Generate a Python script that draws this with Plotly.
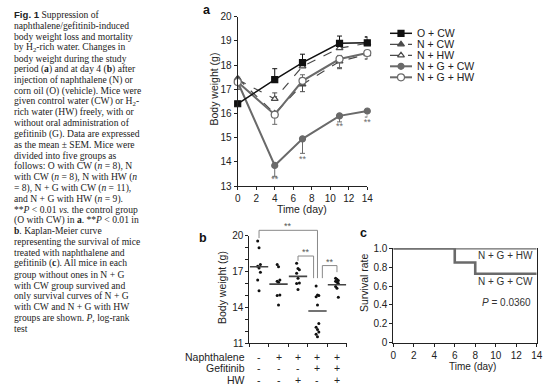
import plotly.graph_objects as go

W, H = 554, 391
def px(x): return x / W
def py(y): return 1 - y / H

# ---------------- data ----------------
days = [0, 4, 7, 11, 14]
series_names = ["O + CW", "N + CW", "N + HW", "N + G + CW", "N + G + HW"]
oc_mean = [16.4, 17.4, 18.1, 18.9, 18.92]
oc_up = [0.1, 0.45, 0.35, 0.3, 0.25]
oc_dn = [0, 0, 0, 0, 0]
ncw_mean = [17.45, 16.0, 17.2, 18.15, 18.45]
ncw_up = [0, 0, 0, 0, 0]
ncw_dn = [0.45, 0.15, 0.3, 0.3, 0.2]
nhw_mean = [17.4, 16.6, 17.95, 18.7, 18.9]
nhw_up = [0.1, 0.25, 0.15, 0.15, 0.25]
nhw_dn = [0, 0, 0, 0, 0]
ngcw_mean = [17.3, 13.85, 14.95, 15.9, 16.1]
ngcw_up = [0, 0, 0, 0, 0]
ngcw_dn = [0.2, 0.45, 0.6, 0.25, 0.25]
nghw_mean = [17.3, 15.95, 17.35, 18.25, 18.5]
nghw_up = [0.05, 0, 0.25, 0.15, 0.1]
nghw_dn = [0.3, 0.4, 0, 0.35, 0.25]
sig_days = [4, 7, 11, 14]
sig_y = [13.25, 14.1, 15.45, 15.6]

# panel b (day 4 body weight per mouse)
b_groups = [1, 2, 3, 4, 5]
g1 = [19.55, 19.0, 17.6, 17.45, 17.3, 16.95, 16.3, 15.4]
g2 = [17.6, 17.4, 16.3, 16.2, 16.1, 15.05, 15.0, 14.2]
g3 = [17.7, 17.25, 17.15, 16.85, 16.45, 16.05, 16.0, 15.5]
g4 = [15.8, 15.05, 15.0, 14.9, 14.2, 12.65, 12.35, 12.15, 11.95, 11.75, 11.55]
g5 = [16.45, 16.35, 16.25, 16.2, 16.1, 16.0, 15.75, 15.6, 14.85]
b_means = [17.4, 15.95, 16.6, 13.7, 15.9]
row_labels = ["Naphthalene", "Gefitinib", "HW"]
naph_signs = ["-", "+", "+", "+", "+"]
gef_signs = ["-", "-", "-", "+", "+"]
hw_signs = ["-", "-", "+", "-", "+"]

# panel c (survival)
surv_hw_t = [0, 14]
surv_hw = [1.0, 1.0]
surv_cw_t = [0, 6, 8, 14]
surv_cw = [1.0, 0.85, 0.73, 0.73]
p_text = "<i>P</i> = 0.0360"

caption = [
    "<span style=\"font-family:'Liberation Sans'\"><b>Fig. 1</b></span> Suppression of",
    "naphthalene/gefitinib-induced",
    "body weight loss and mortality",
    "by H<sub>2</sub>-rich water. Changes in",
    "body weight during the study",
    "period (<b>a</b>) and at day 4 (<b>b</b>) after",
    "injection of naphthalene (N) or",
    "corn oil (O) (vehicle). Mice were",
    "given control water (CW) or H<sub>2</sub>-",
    "rich water (HW) freely, with or",
    "without oral administration of",
    "gefitinib (G). Data are expressed",
    "as the mean ± SEM. Mice were",
    "divided into five groups as",
    "follows: O with CW (<i>n</i> = 8), N",
    "with CW (<i>n</i> = 8), N with HW (<i>n</i>",
    "= 8), N + G with CW (<i>n</i> = 11),",
    "and N + G with HW (<i>n</i> = 9).",
    "**<i>P</i> &lt; 0.01 <i>vs.</i> the control group",
    "(O with CW) in <b>a</b>. **<i>P</i> &lt; 0.01 in",
    "<b>b</b>. Kaplan-Meier curve",
    "representing the survival of mice",
    "treated with naphthalene and",
    "gefitinib (<b>c</b>). All mice in each",
    "group without ones in N + G",
    "with CW group survived and",
    "only survival curves of N + G",
    "with CW and N + G with HW",
    "groups are shown. <i>P</i>, log-rank",
    "test",
]

# ---------------- styles ----------------
SANS = "Liberation Sans, Arial, sans-serif"
SERIF = "Liberation Serif, Times New Roman, serif"
BLACK = "#111111"
DGRAY = "#4a4a4a"
GRAY = "#6a6a6a"

styles = [
    dict(color=BLACK, dash="solid", width=1.5, symbol="square", mfill=BLACK, size=6),
    dict(color=DGRAY, dash="dash", width=1.2, symbol="triangle-up", mfill=DGRAY, size=6),
    dict(color=DGRAY, dash="dash", width=1.2, symbol="triangle-up", mfill="white", size=6),
    dict(color=GRAY, dash="solid", width=2.0, symbol="circle", mfill=GRAY, size=6),
    dict(color=GRAY, dash="solid", width=2.0, symbol="circle", mfill="white", size=7),
]
means = [oc_mean, ncw_mean, nhw_mean, ngcw_mean, nghw_mean]
ups = [oc_up, ncw_up, nhw_up, ngcw_up, nghw_up]
dns = [oc_dn, ncw_dn, nhw_dn, ngcw_dn, nghw_dn]

fig = go.Figure()

# ---------------- panel a ----------------
draw_order = [3, 1, 2, 4, 0]
for i in draw_order:
    s = styles[i]
    fig.add_trace(go.Scatter(
        x=days, y=means[i], mode="lines+markers", name=series_names[i],
        xaxis="x", yaxis="y", cliponaxis=False, showlegend=False,
        line=dict(color=s["color"], dash=s["dash"], width=s["width"]),
        marker=dict(symbol=s["symbol"], size=s["size"], color=s["mfill"],
                    line=dict(color=s["color"], width=1.2)),
        error_y=dict(type="data", symmetric=False, array=ups[i], arrayminus=dns[i],
                     color=s["color"], thickness=1, width=2.5),
    ))
fig.add_trace(go.Scatter(
    x=sig_days, y=sig_y, mode="text", text=["**"] * len(sig_days),
    textfont=dict(family=SANS, size=9, color=GRAY), xaxis="x", yaxis="y",
    showlegend=False, cliponaxis=False))

# manual legend on a pixel-space overlay axis
leg_x0, leg_x1, leg_tx = 390, 412, 415
leg_y0, leg_dy = 33.3, 11.0
for k, name in enumerate(series_names):
    s = styles[k]
    yy = leg_y0 + k * leg_dy
    fig.add_trace(go.Scatter(
        x=[leg_x0, leg_x1], y=[yy, yy], mode="lines", xaxis="x4", yaxis="y4",
        line=dict(color=s["color"], dash=s["dash"], width=s["width"]),
        showlegend=False, hoverinfo="skip"))
    fig.add_trace(go.Scatter(
        x=[(leg_x0 + leg_x1) / 2], y=[yy], mode="markers", xaxis="x4", yaxis="y4",
        marker=dict(symbol=s["symbol"], size=s["size"], color=s["mfill"],
                    line=dict(color=s["color"], width=1.2)),
        showlegend=False, hoverinfo="skip"))
    fig.add_annotation(x=px(leg_tx), y=py(yy), xref="paper", yref="paper",
                       text=name, showarrow=False, xanchor="left", yanchor="middle",
                       font=dict(family=SANS, size=10.5, color="#222"))

# ---------------- panel b ----------------
b_data = [g1, g2, g3, g4, g5]
for g, vals in zip(b_groups, b_data):
    xs = [g + 0.07 * ((j % 3) - 1) for j in range(len(vals))]
    fig.add_trace(go.Scatter(
        x=xs, y=vals, mode="markers", xaxis="x2", yaxis="y2",
        marker=dict(color="#111", size=3), showlegend=False))
for g, m in zip(b_groups, b_means):
    fig.add_trace(go.Scatter(
        x=[g - 0.47, g + 0.47], y=[m, m], mode="lines", xaxis="x2", yaxis="y2",
        line=dict(color="#444", width=1.6), showlegend=False))

# ---------------- panel c ----------------
fig.add_trace(go.Scatter(
    x=surv_hw_t, y=surv_hw, mode="lines", line=dict(color=GRAY, width=2.6, shape="hv"),
    xaxis="x3", yaxis="y3", showlegend=False))
fig.add_trace(go.Scatter(
    x=surv_cw_t, y=surv_cw, mode="lines", line=dict(color=GRAY, width=2.6, shape="hv"),
    xaxis="x3", yaxis="y3", showlegend=False))

# ---------------- axes ----------------
axis_common = dict(showline=True, linecolor="#222", linewidth=1, ticks="outside",
                   ticklen=3, tickcolor="#222", showgrid=False, zeroline=False,
                   automargin=False,
                   tickfont=dict(family=SANS, size=10, color="#222"))

fig.update_layout(
    template="none",
    width=W, height=H, autosize=False,
    margin=dict(l=0, r=0, t=0, b=0, pad=0, autoexpand=False),
    paper_bgcolor="white", plot_bgcolor="rgba(0,0,0,0)",
    xaxis=dict(domain=[px(237.7), px(367.3)], range=[0, 14], tickvals=list(range(0, 15, 2)),
               anchor="y", **axis_common),
    yaxis=dict(domain=[py(186), py(16.7)], range=[13, 20], tickvals=list(range(13, 21)),
               anchor="x", **axis_common),
    xaxis2=dict(domain=[px(249.3), px(346.7)], range=[0.5, 5.5],
                tickvals=[0.5, 1.5, 2.5, 3.5, 4.5, 5.5], showticklabels=False,
                anchor="y2", **axis_common),
    yaxis2=dict(domain=[py(343.3), py(235.7)], range=[11, 20], tickvals=list(range(11, 21)),
                ticktext=[str(v) if (v - 11) % 3 == 0 else "" for v in range(11, 21)],
                anchor="x2", **axis_common),
    xaxis3=dict(domain=[px(393.3), px(536.7)], range=[0, 14], tickvals=list(range(0, 15, 2)),
                anchor="y3", **axis_common),
    yaxis3=dict(domain=[py(342.7), py(248.3)], range=[0, 1], tickvals=[0, 0.2, 0.4, 0.6, 0.8, 1.0],
                ticktext=["0", "0.2", "0.4", "0.6", "0.8", "1.0"], mirror=True,
                anchor="x3", **axis_common),
    xaxis4=dict(domain=[0, 1], range=[0, W], visible=False, anchor="y4", fixedrange=True,
                automargin=False),
    yaxis4=dict(domain=[0, 1], range=[H, 0], visible=False, anchor="x4", fixedrange=True,
                automargin=False),
)

ann_font = dict(family=SANS, size=10.5, color="#222")
def ann(x, y, text, **kw):
    d = dict(x=px(x), y=py(y), xref="paper", yref="paper", text=text, showarrow=False,
             xanchor="center", yanchor="middle")
    d.update(kw)
    if "font" not in d:
        d["font"] = ann_font
    fig.add_annotation(**d)

# axis titles
ann(302, 208.5, "Time (day)")
ann(213.5, 89, "Body weight (g)", textangle=-90)
ann(222, 288, "Body weight (g)", textangle=-90)
ann(472.5, 366, "Time (day)", font=dict(family=SANS, size=10, color="#222"))
ann(364, 283, "Survival rate", textangle=-90)

# panel letters
ann(207, 10, "<b>a</b>", font=dict(family=SANS, size=12.5, color="#111"))
ann(203, 238, "<b>b</b>", font=dict(family=SANS, size=12.5, color="#111"))
ann(363.5, 233, "<b>c</b>", font=dict(family=SANS, size=12.5, color="#111"))

# panel b sign table
row_y = [357, 368, 379.5]
for lab, yy, signs in zip(row_labels, row_y, [naph_signs, gef_signs, hw_signs]):
    ann(247, yy, lab, xanchor="right")
    for g, sg in zip(b_groups, signs):
        fig.add_annotation(x=g, xref="x2", y=py(yy), yref="paper", text=sg,
                           showarrow=False, xanchor="center", yanchor="middle",
                           font=ann_font)

# panel b significance brackets
def bmap(v):  # body weight value -> paper y for panel b
    y0, y1 = py(343.3), py(235.7)
    return y0 + (v - 11) / 9 * (y1 - y0)
brackets = [(1.0, 4.0, 20.45, 19.8, 16.45), (3.0, 3.8, 18.3, 17.9, 16.45), (4.25, 5.0, 17.5, 16.45, 16.95)]
for xl, xr, yt, ylb, yrb in brackets:
    fig.add_shape(type="path", xref="x2", yref="paper",
                  path=f"M {xl},{bmap(ylb)} L {xl},{bmap(yt)} L {xr},{bmap(yt)} L {xr},{bmap(yrb)}",
                  line=dict(color="#888", width=1))
    fig.add_annotation(x=(xl + xr) / 2, xref="x2", y=bmap(yt), yref="paper", text="**",
                       showarrow=False, xanchor="center", yanchor="bottom", yshift=-3,
                       font=dict(family=SANS, size=9, color="#555"))

# panel c labels
ann(535, 255, "N + G + HW", xanchor="right", font=dict(family=SANS, size=10, color="#333"))
ann(535, 281, "N + G + CW", xanchor="right", font=dict(family=SANS, size=10, color="#333"))
ann(480, 302.5, p_text, xanchor="left", font=dict(family=SANS, size=10, color="#333"))

# caption
for k, line in enumerate(caption):
    ann(12, 15 + k * 10.8, line, xanchor="left", yanchor="middle",
        font=dict(family=SERIF, size=9.6, color="#222"))

fig.write_html("out.html", config={"displayModeBar": False, "responsive": False},
               post_script="document.body.style.margin='0';document.body.style.overflow='hidden';")
